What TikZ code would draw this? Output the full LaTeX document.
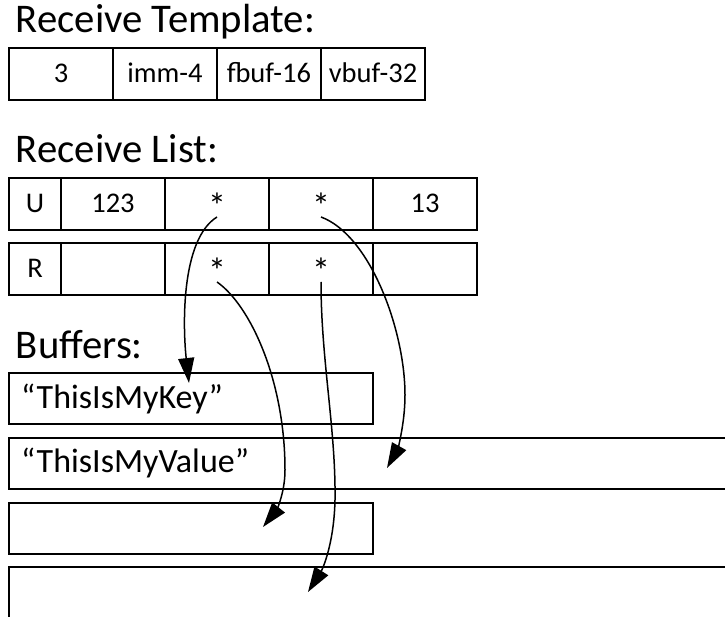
\documentclass[tikz,border=0pt]{standalone}
\usepackage{fontspec}
\setmainfont{Carlito}
\usetikzlibrary{arrows.meta,calc}
\begin{document}
\begin{tikzpicture}[x=1pt,y=-1pt,
  title/.style={inner sep=0pt,outer sep=0pt,anchor=base west,font=\fontsize{40.7}{42}\selectfont},
  cell/.style={draw,line width=2pt,rectangle,inner sep=0pt,outer sep=0pt,minimum height=52pt,minimum width=104pt,text height=18pt,text depth=0pt,font=\fontsize{28.5}{30}\selectfont},
  starcell/.style={cell,text height=30pt,font=\fontsize{36}{38}\selectfont},
  narrow/.style={cell,minimum width=52pt},
  bufbox/.style={draw,line width=2pt,rectangle,inner sep=0pt,outer sep=0pt,minimum height=51pt},
  buftext/.style={inner sep=0pt,outer sep=0pt,anchor=base west,font=\fontsize{34}{36}\selectfont},
  arr/.style={line width=1.5pt,-{Triangle[length=25pt,width=16pt]}}
]
\useasboundingbox (0,0) rectangle (725,617);
\fill[white] (0,0) rectangle (725,617);
\clip (0,0) rectangle (725,617);

% Receive Template
\node[title] (t1) at (16,33) {Receive Template:};
\node[cell] (tc1) at (61,74) {3};
\node[cell] (tc2) at (165,74) {imm-4};
\node[cell] (tc3) at (269,74) {fbuf-16};
\node[cell] (tc4) at (373,74) {vbuf-32};

% Receive List
\node[title] (t2) at (16,163) {Receive List:};
\node[narrow] (u1) at (35,204) {U};
\node[cell] (u2) at (113,204) {123};
\node[starcell] (u3) at (217,204) {*};
\node[starcell] (u4) at (321,204) {*};
\node[cell] (u5) at (425,204) {13};
\node[narrow] (r1) at (35,269) {R};
\node[cell] (r2) at (113,269) {};
\node[starcell] (r3) at (217,269) {*};
\node[starcell] (r4) at (321,269) {*};
\node[cell] (r5) at (425,269) {};

% Buffers
\node[title] (t3) at (16,358) {Buffers:};
\node[bufbox,minimum width=364pt] (b1) at (191,398.5) {};
\node[buftext] (k1) at (21,408) {“ThisIsMyKey”};
\node[bufbox,minimum width=736pt] (b2) at (377,463) {};
\node[buftext] (k2) at (21,472) {“ThisIsMyValue”};
\node[bufbox,minimum width=364pt] (b3) at (191,528) {};
\node[bufbox,minimum width=736pt,minimum height=80pt] (b4) at (377,607) {};

% arrow end points
\coordinate (a1s) at ($(u3.center)+(0,13)$);
\coordinate (a2s) at ($(u4.center)+(0,13)$);
\coordinate (a3s) at ($(r3.center)+(0,13)$);
\coordinate (a4s) at ($(r4.center)+(0,13)$);
\coordinate (a1e) at (189,383);
\coordinate (a2e) at (387,468);
\coordinate (a3e) at (263,527);
\coordinate (a4e) at (308,592);

\draw[arr] (a1s) .. controls (180,240) and (183,330) .. (a1e);
\draw[arr] (a2s) .. controls (370,235) and (405,330) .. (405,395) .. controls (405,425) and (397,450) .. (a2e);
\draw[arr] (a3s) .. controls (250,305) and (285,380) .. (285,470) .. controls (285,495) and (275,512) .. (a3e);
\draw[arr] (a4s) .. controls (321,360) and (336,430) .. (335,500) .. controls (334,545) and (322,570) .. (a4e);
\end{tikzpicture}
\end{document}
